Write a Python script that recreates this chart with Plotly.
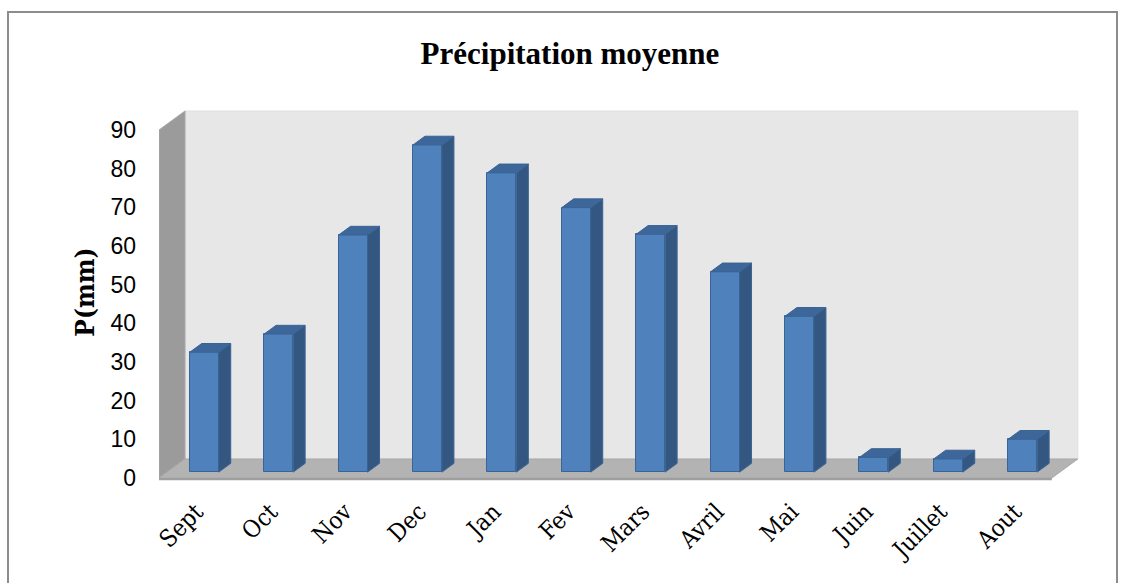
import plotly.graph_objects as go

# Mean monthly precipitation (mm)
months = ["Sept", "Oct", "Nov", "Dec", "Jan", "Fev", "Mars", "Avril", "Mai", "Juin", "Juillet", "Aout"]
precip_mm = [31.0, 35.7, 61.3, 84.6, 77.4, 68.4, 61.5, 51.8, 40.3, 3.8, 3.4, 8.5]
y_ticks = [0, 10, 20, 30, 40, 50, 60, 70, 80, 90]

# Figure / plot-area geometry (pixels)
W, H = 1125, 583
ML, MR, MT, MB = 159, 45, 100, 99
PX_PER_CAT = 74.4
PX_PER_MM = 3.867
plot_w = W - ML - MR
plot_h = H - MT - MB
x_lo = -0.5
x_hi = x_lo + plot_w / PX_PER_CAT
y_lo = -(H - MB - 478) / PX_PER_MM
y_hi = y_lo + plot_h / PX_PER_MM

# Pseudo-3D depth vector (data units) and bar placement inside the depth
DX = 26 / PX_PER_CAT
DY = 19 / PX_PER_MM
F0, F1 = 0.31, 0.77
BAR_W = 0.39
Y_MAX = 90
n = len(months)

BLUE = "#4F81BD"
BLUE_EDGE = "#3A6494"
BLUE_SIDE = "#345781"
BLUE_TOP = "#3D679A"

SERIF = "DejaVu Serif Condensed, Liberation Serif, serif"

fig = go.Figure()

# Front faces of the bars
x_front = [i + F0 * DX for i in range(n)]
base = F0 * DY
fig.add_trace(go.Bar(
    x=x_front, y=precip_mm, base=base, width=BAR_W,
    marker=dict(color=BLUE, line=dict(color=BLUE_EDGE, width=1)),
    hoverinfo="skip", showlegend=False,
))

# Side and top faces of the bars
ddx = (F1 - F0) * DX
ddy = (F1 - F0) * DY
side_x, side_y, top_x, top_y = [], [], [], []
for xc, v in zip(x_front, precip_mm):
    xl, xr = xc - BAR_W / 2, xc + BAR_W / 2
    yt = base + v
    side_x += [xr, xr + ddx, xr + ddx, xr, xr, None]
    side_y += [base, base + ddy, yt + ddy, yt, base, None]
    top_x += [xl, xr, xr + ddx, xl + ddx, xl, None]
    top_y += [yt, yt, yt + ddy, yt + ddy, yt, None]

fig.add_trace(go.Scatter(
    x=side_x, y=side_y, mode="lines", fill="toself", fillcolor=BLUE_SIDE,
    line=dict(color=BLUE_EDGE, width=1), hoverinfo="skip", showlegend=False,
))
fig.add_trace(go.Scatter(
    x=top_x, y=top_y, mode="lines", fill="toself", fillcolor=BLUE_TOP,
    line=dict(color=BLUE_EDGE, width=1), hoverinfo="skip", showlegend=False,
))


def poly(pts):
    return "M " + " L ".join(f"{x},{y}" for x, y in pts) + " Z"


x0, x1 = -0.5, n - 0.5
shapes = [
    # back wall
    dict(type="path", path=poly([(x0 + DX, DY), (x1 + DX, DY), (x1 + DX, Y_MAX + DY), (x0 + DX, Y_MAX + DY)]),
         fillcolor="#E7E7E7", line=dict(color="#E0E0E0", width=1), layer="below"),
    # side wall
    dict(type="path", path=poly([(x0, 0), (x0 + DX, DY), (x0 + DX, Y_MAX + DY), (x0, Y_MAX)]),
         fillcolor="#9B9B9B", line=dict(color="#A8A8A8", width=1), layer="below"),
    # floor
    dict(type="path", path=poly([(x0, 0), (x1, 0), (x1 + DX, DY), (x0 + DX, DY)]),
         fillcolor="#B3B3B3", line=dict(color="#A8A8A8", width=1), layer="below"),
    # floor front edge
    dict(type="path", path=poly([(x0, 0), (x1, 0), (x1, -0.6), (x0, -0.6)]),
         fillcolor="#9E9E9E", line=dict(width=0), layer="below"),
    # chart border
    dict(type="rect", xref="paper", yref="paper",
         x0=(8 - ML) / plot_w, x1=(1117 - ML) / plot_w,
         y0=-0.5, y1=(H - MB - 12) / plot_h,
         line=dict(color="#8C8C8C", width=2), fillcolor="rgba(0,0,0,0)", layer="below"),
]

fig.update_layout(
    width=W, height=H,
    margin=dict(l=ML, r=MR, t=MT, b=MB, autoexpand=False),
    paper_bgcolor="white", plot_bgcolor="white",
    shapes=shapes,
    title=dict(
        text="<b>Précipitation moyenne</b>",
        font=dict(family="Liberation Serif", size=31, color="black"),
        x=570 / W, xanchor="center", y=1 - 53 / H, yanchor="middle", yref="container",
    ),
    xaxis=dict(
        range=[x_lo, x_hi], showgrid=False, zeroline=False, showline=False,
        tickmode="array", tickvals=list(range(n)), ticktext=months, tickangle=-45,
        ticks="", ticklabelstandoff=8,
        tickfont=dict(family=SERIF, size=24, color="black"),
        fixedrange=True,
    ),
    yaxis=dict(
        range=[y_lo, y_hi], showgrid=False, zeroline=False, showline=False,
        tickmode="array", tickvals=y_ticks, ticks="", ticklabelstandoff=22,
        tickfont=dict(family="Liberation Sans", size=23, color="black"),
        title=dict(text="<b>P(mm)</b>", standoff=8,
                   font=dict(family=SERIF, size=26, color="black")),
        fixedrange=True,
    ),
    bargap=0,
)

fig.write_html("out.html")
